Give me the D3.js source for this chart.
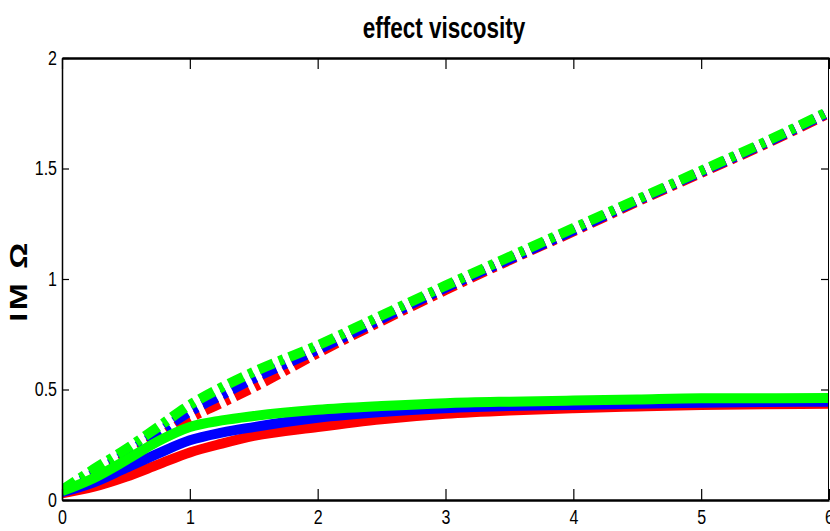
<!DOCTYPE html>
<html>
<head>
<meta charset="utf-8">
<script src="https://cdn.jsdelivr.net/npm/d3@7"></script>
<style>
  body { margin: 0; background: #fff; }
  .tick text { font-family: "Liberation Sans", Arial, sans-serif; font-size: 20px; fill: #000; }
</style>
</head>
<body>
<script>
// x positions
const xs = [0, 0.25, 0.5, 0.75, 1, 1.25, 1.5, 2, 2.5, 3, 3.5, 4, 4.5, 5, 5.5, 6];

// solid curves
const solidRed   = [0.03, 0.06, 0.105, 0.16, 0.215, 0.255, 0.29, 0.33, 0.365, 0.39, 0.405, 0.415, 0.423, 0.43, 0.433, 0.435];
const solidBlue  = [0.035, 0.08, 0.145, 0.21, 0.27, 0.305, 0.33, 0.372, 0.398, 0.415, 0.425, 0.43, 0.436, 0.44, 0.443, 0.445];
const solidGreen = [0.04, 0.10, 0.18, 0.265, 0.33, 0.36, 0.38, 0.408, 0.425, 0.438, 0.445, 0.45, 0.455, 0.46, 0.46, 0.462];

// dash-dot curves
const dashRed   = [0.035, 0.105, 0.19, 0.28, 0.37, 0.44, 0.51, 0.665, 0.81, 0.95, 1.085, 1.215, 1.35, 1.48, 1.61, 1.75];
const dashBlue  = [0.04, 0.12, 0.21, 0.305, 0.40, 0.475, 0.55, 0.68, 0.82, 0.96, 1.09, 1.22, 1.355, 1.485, 1.615, 1.755];
const dashGreen = [0.045, 0.14, 0.23, 0.33, 0.43, 0.51, 0.58, 0.70, 0.835, 0.97, 1.10, 1.23, 1.36, 1.49, 1.62, 1.76];

const xTicks = [0, 1, 2, 3, 4, 5, 6];
const yTicks = [0, 0.5, 1, 1.5, 2];

document.addEventListener("DOMContentLoaded", () => {
    const width = 830;
    const height = 531;
    const margin = {top: 58, right: 1, bottom: 31, left: 62};

    const svg = d3.select('body')
        .append('svg')
        .attr('width', width)
        .attr('height', height);

    const x = d3.scaleLinear().domain([0, 6]).range([margin.left, width - margin.right]);
    const y = d3.scaleLinear().domain([0, 2]).range([height - margin.bottom, margin.top]);

    // series, drawn red -> blue -> green like the picture
    const series = [
        {vals: dashRed, color: '#ff0000', dash: true},
        {vals: dashBlue, color: '#0000ff', dash: true},
        {vals: dashGreen, color: '#00ff00', dash: true},
        {vals: solidRed, color: '#ff0000', dash: false},
        {vals: solidBlue, color: '#0000ff', dash: false},
        {vals: solidGreen, color: '#00ff00', dash: false}
    ];

    const line = d3.line()
        .x((d, i) => x(xs[i]))
        .y(d => y(d))
        .curve(d3.curveMonotoneX);

    svg.append('clipPath').attr('id', 'clip')
        .append('rect')
        .attr('x', margin.left).attr('y', margin.top)
        .attr('width', width - margin.left - margin.right)
        .attr('height', height - margin.top - margin.bottom);

    const g = svg.append('g').attr('clip-path', 'url(#clip)');
    g.selectAll('path')
        .data(series)
        .enter()
        .append('path')
        .attr('d', d => line(d.vals))
        .attr('fill', 'none')
        .attr('stroke', d => d.color)
        .attr('stroke-width', 10)
        .attr('stroke-dasharray', d => d.dash ? '16,6,5,6' : null);

    // axes, ticks pointing inward on all four sides
    const bottom = svg.append('g')
        .attr('transform', `translate(0,${y(0)})`)
        .call(d3.axisBottom(x).tickValues(xTicks).tickFormat(d3.format('d')).tickSizeInner(-11).tickSizeOuter(0).tickPadding(10));
    const top = svg.append('g')
        .attr('transform', `translate(0,${y(2)})`)
        .call(d3.axisTop(x).tickValues(xTicks).tickFormat('').tickSizeInner(-11).tickSizeOuter(0));
    const left = svg.append('g')
        .attr('transform', `translate(${x(0)},0)`)
        .call(d3.axisLeft(y).tickValues(yTicks).tickFormat(d3.format('')).tickSizeInner(-7).tickSizeOuter(0));
    const right = svg.append('g')
        .attr('transform', `translate(${x(6) - 1},0)`)
        .call(d3.axisRight(y).tickValues(yTicks).tickFormat('').tickSizeInner(-7).tickSizeOuter(0));

    [bottom, top, left, right].forEach(a => {
        a.select('.domain').attr('stroke', '#000');
        a.selectAll('.tick line').attr('stroke', '#000').attr('stroke-width', 1.2);
    });
    bottom.select('.domain').attr('stroke-width', 2.5);
    top.select('.domain').attr('stroke-width', 2.5);
    left.select('.domain').attr('stroke-width', 1.5);

    // condensed look of the tick labels
    bottom.selectAll('.tick text').attr('transform', 'scale(0.8,1)');
    left.selectAll('.tick text').attr('x', 0).attr('transform', 'translate(-5,0) scale(0.8,1)');

    svg.append('text')
        .attr('transform', 'translate(444,38) scale(0.75,1)')
        .attr('text-anchor', 'middle')
        .style('font-family', '"Liberation Sans", Arial, sans-serif')
        .style('font-weight', 'bold')
        .style('font-size', '30px')
        .text('effect viscosity');

    svg.append('text')
        .attr('transform', 'translate(27,281) rotate(-90) scale(1.35,1)')
        .attr('text-anchor', 'middle')
        .style('font-family', '"Liberation Sans", Arial, sans-serif')
        .style('font-weight', 'bold')
        .style('font-size', '24px')
        .style('letter-spacing', '2px')
        .text('IM Ω');
});
</script>
</body>
</html>
